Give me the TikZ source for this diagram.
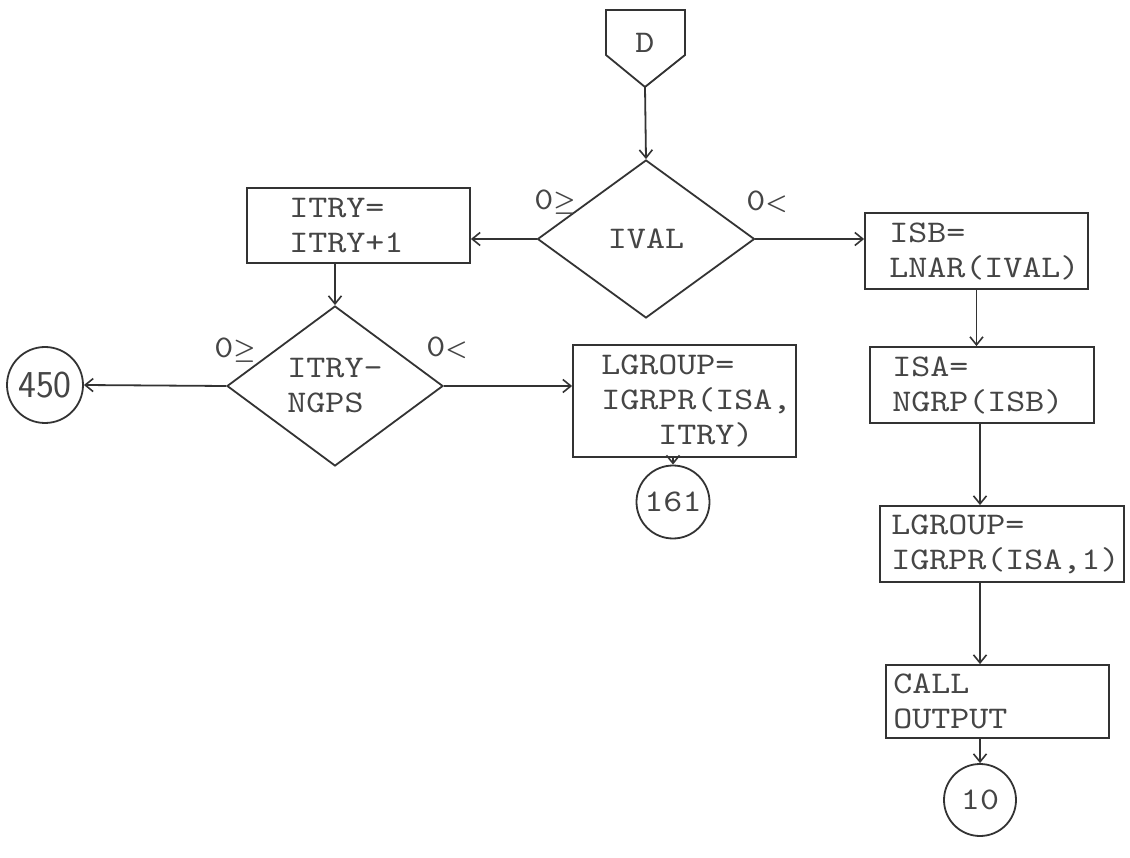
\documentclass[tikz,border=0pt]{standalone}
\usepackage{fontspec}
\usetikzlibrary{arrows.meta,shapes.geometric}
\newfontfamily\tw{lmmono10-regular.otf}[FakeStretch=1.15]
\definecolor{linec}{gray}{0.2}
\definecolor{textc}{gray}{0.27}
\newcommand{\geqsym}{{\fontsize{36}{36}\selectfont\boldmath$\geq$}}
\newcommand{\ltsym}{{\fontsize{34}{34}\selectfont\boldmath$<$}}
\tikzset{
 ln/.style={draw=linec, line width=1.8pt},
 ttext/.style={font=\fontsize{31.5}{35}\selectfont\tw, text=textc, inner sep=0pt},
 boxnode/.style={ln, rectangle, inner sep=0pt},
 btext/.style={ttext, anchor=west, align=left},
 dec/.style={ln, diamond, inner sep=0pt, minimum width=217pt, minimum height=158pt, ttext, align=left},
 connc/.style={ln, circle, inner sep=0pt, minimum size=74pt, ttext},
 arr/.style={ln, -{Straight Barb[length=8pt,width=13pt,line width=1.6pt]}},
 lab/.style={ttext}
}
\begin{document}
\begin{tikzpicture}[x=1pt,y=-1pt]
\fill[white] (0,0) rectangle (1130,858);
\useasboundingbox (0,0) rectangle (1130,858);
% off-page connector D
\draw[ln] (606,10) -- (685,10) -- (685,55) -- (645,87) -- (606,55) -- cycle;
\node[ttext] (D) at (645,43) {D};
\coordinate (Dtip) at (645,87);
% decisions
\node[dec] (ival) at (646,239) {IVAL};
\node[dec, minimum width=216pt, minimum height=160pt] (ngps) at (335,386) {ITRY-\\NGPS};
% boxes
\node[boxnode, minimum width=223pt, minimum height=75pt] (itry) at (358.5,225.5) {};
\node[btext] (itryt) at ([xshift=43pt]itry.west) {ITRY=\\ITRY+1};
\node[boxnode, minimum width=223pt, minimum height=112pt] (lga) at (684.5,401) {};
\node[btext] (lgat) at ([xshift=29pt]lga.west) {LGROUP=\\IGRPR(ISA,\\\hphantom{III}ITRY)};
\node[boxnode, minimum width=223pt, minimum height=76pt] (isb) at (976.5,251) {};
\node[btext] (isbt) at ([xshift=25pt]isb.west) {ISB=\\LNAR(IVAL)};
\node[boxnode, minimum width=224pt, minimum height=76pt] (isa) at (982,385) {};
\node[btext] (isat) at ([xshift=23pt]isa.west) {ISA=\\NGRP(ISB)};
\node[boxnode, minimum width=244pt, minimum height=76pt] (lgb) at (1002,544) {};
\node[btext] (lgbt) at ([xshift=12pt]lgb.west) {LGROUP=\\IGRPR(ISA,1)};
\node[boxnode, minimum width=223pt, minimum height=73pt] (call) at (997.5,701.5) {};
\node[btext] (callt) at ([xshift=8pt]call.west) {CALL\\OUTPUT};
% connectors
\node[connc, font=\fontsize{38}{40}\selectfont\sffamily, minimum size=76pt] (c450) at (45,385) {450};
\node[connc, minimum size=73pt] (c161) at (673,502) {161};
\node[connc, minimum size=72pt] (c10) at (980,800) {10};
% labels
\node[lab] (l1) at (555,202) {0\geqsym};
\node[lab] (l2) at (767,202) {0\ltsym};
\node[lab] (l3) at (235,350) {0\geqsym};
\node[lab] (l4) at (447,348) {0\ltsym};
% arrows
\draw[arr] (Dtip) -- (ival.north);
\draw[arr] (ival.west) -- (itry.east |- ival.west);
\draw[arr] (ival.east) -- (isb.west |- ival.east);
\draw[arr] (ngps.north |- itry.south) -- (ngps.north);
\draw[arr] (ngps.west) -- (c450.east);
\draw[arr] (ngps.east) -- (lga.west |- ngps.east);
\draw[arr] (c161.north |- lga.south) -- (c161.north);
\draw[arr] (isb.south) -- (isb.south |- isa.north);
\draw[arr] (c10.north |- isa.south) -- (c10.north |- lgb.north);
\draw[arr] (c10.north |- lgb.south) -- (c10.north |- call.north);
\draw[arr] (c10.north |- call.south) -- (c10.north);
\end{tikzpicture}
\end{document}
